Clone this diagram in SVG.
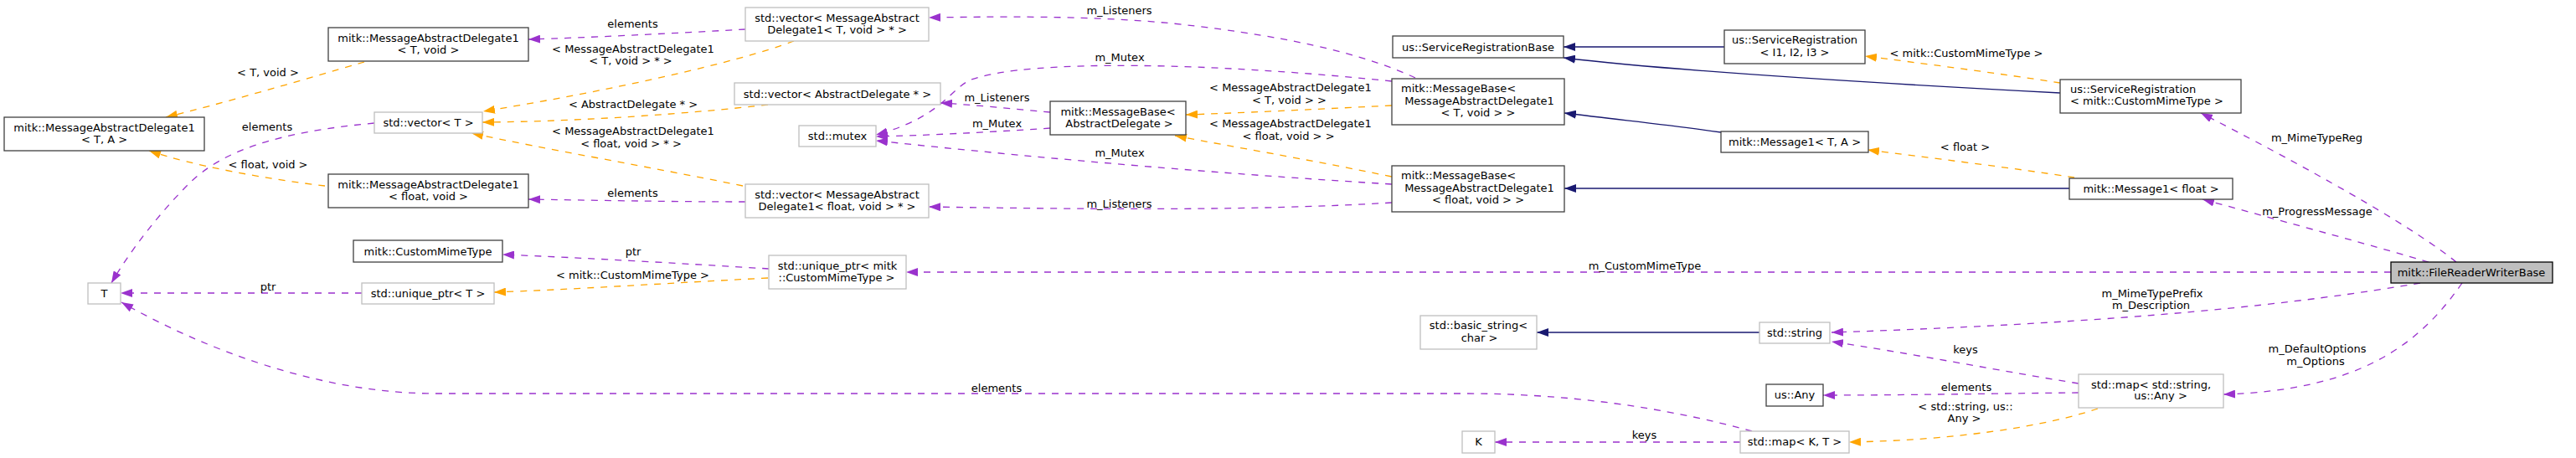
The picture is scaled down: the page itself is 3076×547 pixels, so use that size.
<svg xmlns="http://www.w3.org/2000/svg" width="3076" height="547" viewBox="0 0 3076 547">
<style>
text{font-family:"DejaVu Sans","Liberation Sans",sans-serif;font-size:13px;fill:#000}
.c{text-anchor:middle}
.n rect{fill:#fff;stroke:#404040;stroke-width:1.3}
.u rect{stroke:#bfbfbf}
.r rect{fill:#bfbfbf;stroke:#000}
.e path{fill:none;stroke-width:1.3;stroke-dasharray:8,8}
.e .p{stroke:#9a32cd;marker-end:url(#ap)}
.e .o{stroke:#ffa500;marker-end:url(#ao)}
.e .b{stroke:#191970;stroke-dasharray:none;marker-end:url(#ab)}
</style>
<defs>
<marker id="ap" viewBox="0 0 14 10" refX="14" refY="5" markerWidth="14" markerHeight="10" markerUnits="userSpaceOnUse" orient="auto"><path d="M0,0L14,5L0,10z" fill="#9a32cd"/></marker>
<marker id="ao" viewBox="0 0 14 10" refX="14" refY="5" markerWidth="14" markerHeight="10" markerUnits="userSpaceOnUse" orient="auto"><path d="M0,0L14,5L0,10z" fill="#ffa500"/></marker>
<marker id="ab" viewBox="0 0 14 10" refX="14" refY="5" markerWidth="14" markerHeight="10" markerUnits="userSpaceOnUse" orient="auto"><path d="M0,0L14,5L0,10z" fill="#191970"/></marker>
</defs>
<rect width="3076" height="547" fill="#fff"/>
<g id="edges" class="e">
<path class="o" d="M435,74C360,96 260,125 198,140"/>
<text class="c" x="320" y="90.5">&lt; T, void &gt;</text>
<path class="o" d="M388,222C320,214 230,198 178,180"/>
<text class="c" x="320" y="200.5">&lt; float, void &gt;</text>
<path class="p" d="M447,147C330,158 265,180 225,220C190,255 155,300 133,338"/>
<text class="c" x="319" y="155.5">elements</text>
<path class="p" d="M432,350L144,350"/>
<text class="c" x="320" y="347">ptr</text>
<path class="p" d="M2092,515C2020,495 1900,470 1750,470L520,470C380,470 240,415 145,361"/>
<text class="c" x="1190" y="467.5">elements</text>
<path class="p" d="M890,35C800,40 700,45 631,47"/>
<text class="c" x="755.5" y="32.5">elements</text>
<path class="o" d="M948,49C880,75 720,110 577,133"/>
<text class="c" x="756" y="63">&lt; MessageAbstractDelegate1</text>
<text class="c" x="753" y="76.5">&lt; T, void &gt; * &gt;</text>
<path class="o" d="M917,125C830,135 700,145 576,146"/>
<text class="c" x="756" y="129">&lt; AbstractDelegate * &gt;</text>
<path class="o" d="M887,222C780,200 650,178 563,159"/>
<text class="c" x="756" y="161">&lt; MessageAbstractDelegate1</text>
<text class="c" x="753.5" y="175.5">&lt; float, void &gt; * &gt;</text>
<path class="p" d="M890,241C800,241 700,239 631,238"/>
<text class="c" x="755.5" y="235">elements</text>
<path class="p" d="M1690,93C1640,70 1560,45 1400,28C1300,18 1180,20 1109,21"/>
<text class="c" x="1336.5" y="16.5">m_Listeners</text>
<path class="p" d="M1662,97C1450,75 1230,70 1160,95C1135,105 1125,140 1046,161"/>
<text class="c" x="1337" y="72.5">m_Mutex</text>
<path class="p" d="M1254,134C1210,130 1160,125 1123,123"/>
<text class="c" x="1190.5" y="121">m_Listeners</text>
<path class="p" d="M1254,153C1180,158 1100,162 1046,163"/>
<text class="c" x="1190.5" y="152">m_Mutex</text>
<path class="p" d="M1662,220C1500,210 1300,195 1046,168"/>
<text class="c" x="1337" y="187">m_Mutex</text>
<path class="p" d="M1662,242C1500,252 1300,250 1109,247"/>
<text class="c" x="1336.5" y="248">m_Listeners</text>
<path class="o" d="M1662,126C1560,131 1480,135 1416,137"/>
<text class="c" x="1541" y="109">&lt; MessageAbstractDelegate1</text>
<text class="c" x="1539.5" y="123.5">&lt; T, void &gt; &gt;</text>
<path class="o" d="M1662,211C1560,190 1470,175 1403,162"/>
<text class="c" x="1541" y="152">&lt; MessageAbstractDelegate1</text>
<text class="c" x="1538.5" y="166.5">&lt; float, void &gt; &gt;</text>
<path class="b" d="M2059,56L1867,56"/>
<path class="b" d="M2460,111C2250,100 2000,85 1867,69"/>
<path class="b" d="M2055,158C2000,150 1950,145 1868,135"/>
<path class="b" d="M2471,225L1868,225"/>
<path class="o" d="M2460,99C2390,88 2290,75 2227,67"/>
<text class="c" x="2348" y="68">&lt; mitk::CustomMimeType &gt;</text>
<path class="o" d="M2477,212C2400,200 2300,188 2230,179"/>
<text class="c" x="2346.5" y="179.5">&lt; float &gt;</text>
<path class="p" d="M2933,313C2890,278 2790,218 2628,135"/>
<text class="c" x="2766.5" y="168.5">m_MimeTypeReg</text>
<path class="p" d="M2900,313C2850,298 2740,268 2630,238"/>
<text class="c" x="2767" y="257">m_ProgressMessage</text>
<path class="p" d="M2855,325L1082,325"/>
<text class="c" x="1964" y="321.5">m_CustomMimeType</text>
<path class="p" d="M2890,338C2750,362 2550,385 2187,397"/>
<text class="c" x="2570" y="355">m_MimeTypePrefix</text>
<text class="c" x="2568.5" y="369">m_Description</text>
<path class="p" d="M2940,338C2890,410 2820,466 2655,471"/>
<text class="c" x="2767" y="421">m_DefaultOptions</text>
<text class="c" x="2765" y="436">m_Options</text>
<path class="p" d="M2482,458C2400,445 2270,420 2187,408"/>
<text class="c" x="2347" y="421.5">keys</text>
<path class="p" d="M2482,469C2380,470 2270,472 2177,472"/>
<text class="c" x="2348" y="467">elements</text>
<path class="o" d="M2505,488C2440,510 2330,526 2208,528"/>
<text class="c" x="2347" y="489.5">&lt; std::string, us::</text>
<text class="c" x="2345.5" y="504">Any &gt;</text>
<path class="p" d="M2078,528L1785,528"/>
<text class="c" x="1963.5" y="524">keys</text>
<path class="p" d="M918,321C820,315 700,308 600,304"/>
<text class="c" x="756" y="304.5">ptr</text>
<path class="o" d="M917,332C800,338 680,346 590,349"/>
<text class="c" x="755.5" y="333">&lt; mitk::CustomMimeType &gt;</text>
<path class="b" d="M2101,397L1835,397"/>
</g>
<g id="n_mad1_TA" class="n"><rect x="5" y="140" width="239" height="40"/><text class="c" x="124.5" y="156.5">mitk::MessageAbstractDelegate1</text><text class="c" x="124.5" y="170.5">&lt; T, A &gt;</text></g>
<g id="n_mad1_Tvoid" class="n"><rect x="392" y="33" width="239" height="40"/><text class="c" x="511.5" y="49.5">mitk::MessageAbstractDelegate1</text><text class="c" x="511.5" y="63.5">&lt; T, void &gt;</text></g>
<g id="n_mad1_floatvoid" class="n"><rect x="392" y="208" width="239" height="40"/><text class="c" x="511.5" y="224.5">mitk::MessageAbstractDelegate1</text><text class="c" x="511.5" y="238.5">&lt; float, void &gt;</text></g>
<g id="n_vectorT" class="n u"><rect x="447" y="134" width="129" height="25"/><text class="c" x="511.5" y="151">std::vector&lt; T &gt;</text></g>
<g id="n_T" class="n u"><rect x="105" y="338" width="39" height="25"/><text class="c" x="124.5" y="355">T</text></g>
<g id="n_CustomMimeType" class="n"><rect x="422" y="287" width="178" height="26"/><text class="c" x="511" y="304.5">mitk::CustomMimeType</text></g>
<g id="n_unique_ptrT" class="n u"><rect x="432" y="338" width="158" height="25"/><text class="c" x="511" y="355">std::unique_ptr&lt; T &gt;</text></g>
<g id="n_vecMAD_T" class="n u"><rect x="890" y="9" width="219" height="40"/><text class="c" x="999.5" y="25.5">std::vector&lt; MessageAbstract</text><text class="c" x="999.5" y="39.5">Delegate1&lt; T, void &gt; * &gt;</text></g>
<g id="n_vecAD" class="n u"><rect x="877" y="99" width="246" height="26"/><text class="c" x="1000" y="116.5">std::vector&lt; AbstractDelegate * &gt;</text></g>
<g id="n_mutex" class="n u"><rect x="954" y="150" width="92" height="25"/><text class="c" x="1000" y="167">std::mutex</text></g>
<g id="n_vecMAD_float" class="n u"><rect x="890" y="220" width="219" height="40"/><text class="c" x="999.5" y="236.5">std::vector&lt; MessageAbstract</text><text class="c" x="999.5" y="250.5">Delegate1&lt; float, void &gt; * &gt;</text></g>
<g id="n_unique_ptrCMT" class="n u"><rect x="918" y="305" width="164" height="40"/><text class="c" x="1000" y="321.5">std::unique_ptr&lt; mitk</text><text class="c" x="999" y="335.5">::CustomMimeType &gt;</text></g>
<g id="n_MessageBaseAD" class="n"><rect x="1254" y="121" width="162" height="40"/><text class="c" x="1335" y="137.5">mitk::MessageBase&lt;</text><text class="c" x="1336.5" y="151.5">AbstractDelegate &gt;</text></g>
<g id="n_SRBase" class="n"><rect x="1663" y="43" width="204" height="26"/><text class="c" x="1765" y="60.5">us::ServiceRegistrationBase</text></g>
<g id="n_MessageBaseT" class="n"><rect x="1662" y="94" width="206" height="55"/><text x="1673" y="110.2">mitk::MessageBase&lt;</text><text class="c" x="1766.5" y="125.2">MessageAbstractDelegate1</text><text class="c" x="1765" y="139.2">&lt; T, void &gt; &gt;</text></g>
<g id="n_MessageBaseF" class="n"><rect x="1662" y="198" width="206" height="55"/><text x="1673" y="214.2">mitk::MessageBase&lt;</text><text class="c" x="1766.5" y="229.2">MessageAbstractDelegate1</text><text class="c" x="1765" y="242.8">&lt; float, void &gt; &gt;</text></g>
<g id="n_basic_string" class="n u"><rect x="1696" y="377" width="139" height="40"/><text class="c" x="1765.5" y="393">std::basic_string&lt;</text><text class="c" x="1766.5" y="408">char &gt;</text></g>
<g id="n_K" class="n u"><rect x="1746" y="515" width="39" height="26"/><text class="c" x="1765.5" y="532">K</text></g>
<g id="n_SR_I" class="n"><rect x="2059" y="36" width="168" height="40"/><text class="c" x="2143" y="52.2">us::ServiceRegistration</text><text class="c" x="2143" y="66.8">&lt; I1, I2, I3 &gt;</text></g>
<g id="n_Message1TA" class="n"><rect x="2055" y="157" width="176" height="25"/><text class="c" x="2143" y="173.5">mitk::Message1&lt; T, A &gt;</text></g>
<g id="n_SR_CMT" class="n"><rect x="2460" y="95" width="216" height="40"/><text x="2472" y="111.2">us::ServiceRegistration</text><text x="2472" y="125">&lt; mitk::CustomMimeType &gt;</text></g>
<g id="n_Message1f" class="n"><rect x="2471" y="213" width="195" height="25"/><text class="c" x="2568.5" y="229.5">mitk::Message1&lt; float &gt;</text></g>
<g id="n_string" class="n u"><rect x="2101" y="385" width="84" height="25"/><text class="c" x="2143" y="401.5">std::string</text></g>
<g id="n_Any" class="n"><rect x="2109" y="459" width="68" height="26"/><text class="c" x="2143" y="475.5">us::Any</text></g>
<g id="n_mapKT" class="n u"><rect x="2078" y="515" width="130" height="26"/><text class="c" x="2143" y="531.5">std::map&lt; K, T &gt;</text></g>
<g id="n_mapSA" class="n u"><rect x="2482" y="447" width="173" height="40"/><text class="c" x="2568.5" y="463.5">std::map&lt; std::string,</text><text class="c" x="2580" y="477">us::Any &gt;</text></g>
<g id="n_FileReaderWriterBase" class="n r"><rect x="2855" y="313" width="193" height="25"/><text class="c" x="2951" y="329.5">mitk::FileReaderWriterBase</text></g>
</svg>
